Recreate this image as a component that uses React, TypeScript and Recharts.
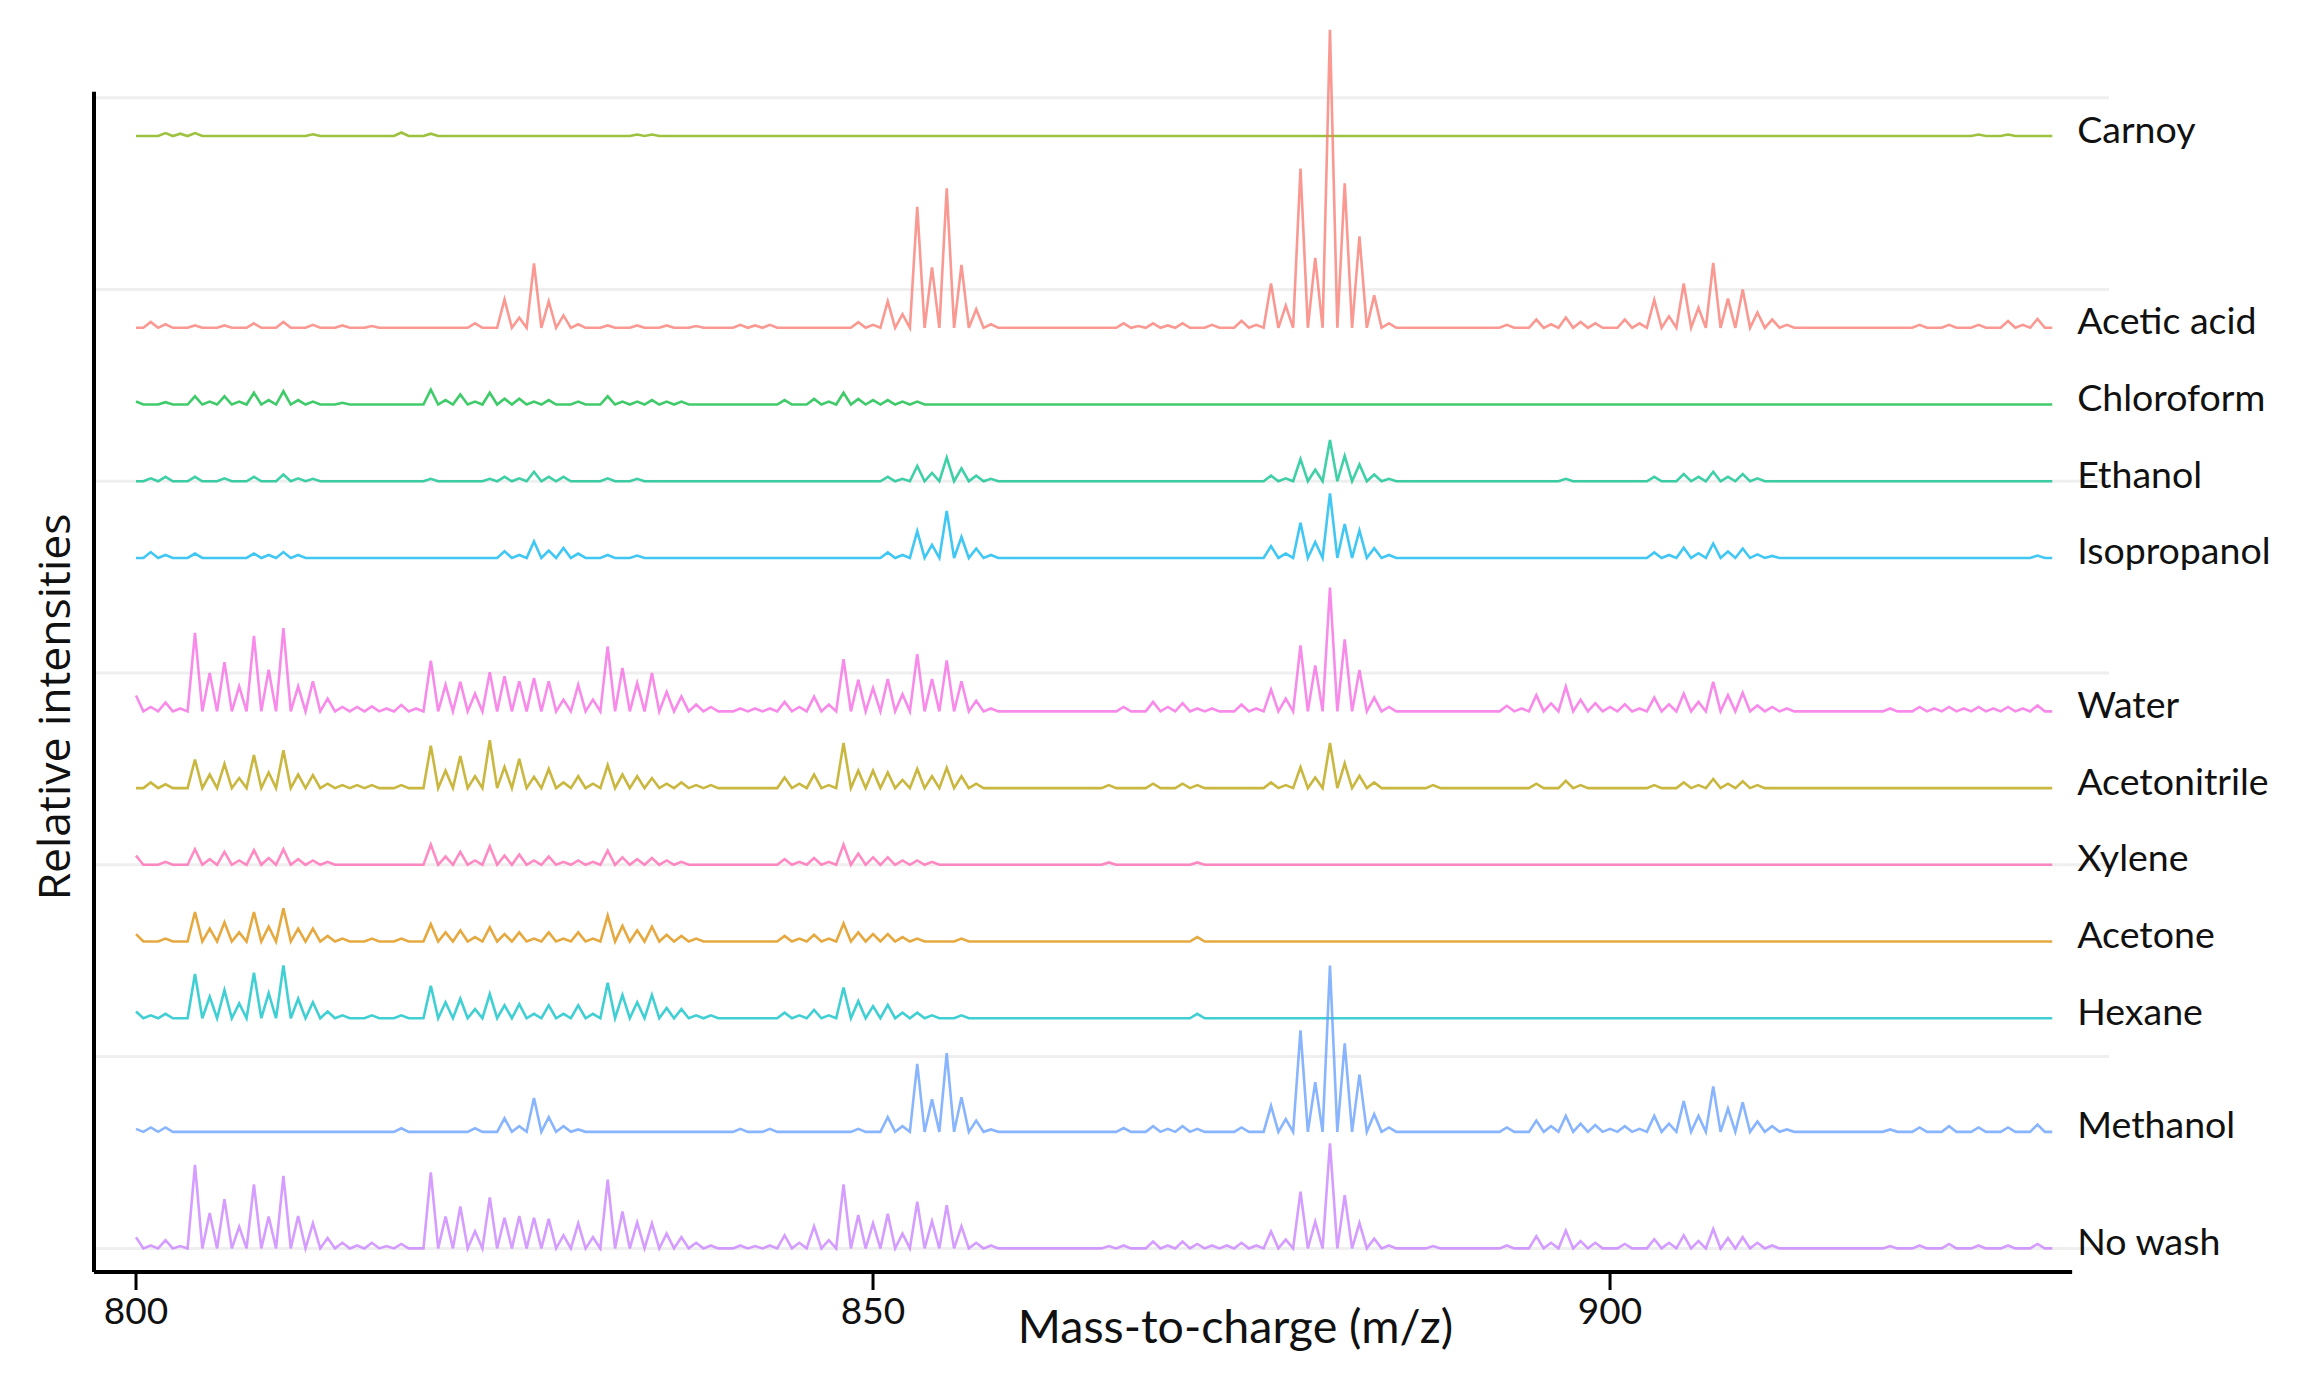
import { Label, LabelList, Line, LineChart, ReferenceLine, XAxis, YAxis } from "recharts";

// samples, top to bottom as stacked in the figure
const SERIES_NAMES = [
  "Carnoy",
  "Acetic acid",
  "Chloroform",
  "Ethanol",
  "Isopropanol",
  "Water",
  "Acetonitrile",
  "Xylene",
  "Acetone",
  "Hexane",
  "Methanol",
  "No wash",
];

// ggplot hue palette, alphabetical assignment
const SERIES_COLORS = [
  "#7CAE00",
  "#F8766D",
  "#00BA38",
  "#00C08B",
  "#00B4F0",
  "#F564E3",
  "#B79F00",
  "#FF64B0",
  "#DE8C00",
  "#00BFC4",
  "#619CFF",
  "#C77CFF",
];

// vertical offset of each stacked spectrum (relative intensity units)
const BASELINES = [385, 320, 294, 268, 242, 190, 164, 138, 112, 86, 47.5, 8];
const GRID_LEVELS = [8, 73, 138, 203, 268, 333, 398];
const X_TICKS = [800, 850, 900];
const MZ_FROM = 800;
const MZ_TO = 930;
const MZ_STEP = 0.5;

// [m/z, peak height]
const carnoyPeaks: [number, number][] = [
  [802, 1], [803, 0.8], [804, 1], [812, 0.6], [818, 1.2], [820, 0.8], [834, 0.5], [835, 0.5], [925, 0.5], [927, 0.5],
];

const aceticPeaks: [number, number][] = [
  [801, 2], [802, 1.2], [804, 0.8], [806, 0.8], [808, 1.5], [810, 2], [812, 1], [814, 0.8], [816, 0.6],
  [823, 1.5], [825, 9.6], [826, 3.4], [827, 21.8], [828, 9], [829, 4.2], [830, 1.2], [832, 0.8], [834, 0.8],
  [836, 0.8], [838, 0.6], [841, 1], [842, 0.8], [843, 1], [849, 1.9], [850, 1], [851, 9], [852, 4.6],
  [853, 41], [854, 20.5], [855, 47.3], [856, 21.3], [857, 6.3], [858, 1.2], [867, 1.5], [868, 0.6],
  [869, 1.5], [870, 0.8], [871, 1.5], [873, 1], [875, 2.4], [876, 1], [877, 15], [878, 7.5], [879, 54],
  [880, 23.7], [881, 101], [882, 49], [883, 31], [884, 11], [885, 1.5], [893, 1], [895, 2.8], [896, 1.2],
  [897, 3.5], [898, 2], [899, 1.5], [901, 2.8], [902, 1.5], [903, 9.5], [904, 3.9], [905, 15], [906, 6.8],
  [907, 22], [908, 9.9], [909, 13], [910, 5.2], [911, 2.8], [912, 1], [921, 1], [923, 1], [925, 1],
  [927, 2.3], [928, 1], [929, 3],
];

const chloroformPeaks: [number, number][] = [
  [800, 1], [802, 0.8], [804, 2.8], [805, 1], [806, 2.8], [807, 1], [808, 4], [809, 1.5], [810, 4.5],
  [811, 1.5], [812, 1], [814, 0.6], [820, 5], [821, 1.5], [822, 3.4], [823, 1], [824, 4], [825, 2],
  [826, 2], [827, 1], [828, 1.5], [830, 1], [832, 2.8], [833, 1], [834, 1], [835, 1.5], [836, 1], [837, 1],
  [844, 1.5], [846, 1.9], [847, 1], [848, 4], [849, 1.9], [850, 1.5], [851, 1.5], [852, 1], [853, 1],
];

const ethanolPeaks: [number, number][] = [
  [801, 1], [802, 1.5], [804, 1.5], [806, 1], [808, 1.5], [810, 2.3], [811, 1], [812, 0.8], [820, 0.8],
  [824, 0.8], [825, 1.5], [826, 1], [827, 3.2], [828, 1.5], [829, 1.5], [832, 1], [834, 0.8], [851, 1.5],
  [852, 0.8], [853, 5.2], [854, 2.8], [855, 8], [856, 4.4], [857, 1.9], [858, 0.8], [877, 1.9], [878, 1],
  [879, 7.5], [880, 3.9], [881, 14], [882, 8.6], [883, 5.7], [884, 2.3], [885, 0.8], [897, 0.8], [903, 1.5],
  [905, 2.4], [906, 1.5], [907, 3.2], [908, 1.5], [909, 2.4], [910, 1],
];

const isopropanolPeaks: [number, number][] = [
  [801, 2], [802, 1], [804, 1.5], [808, 1.5], [809, 1], [810, 2], [811, 1], [825, 2.3], [826, 1],
  [827, 5.6], [828, 2.5], [829, 3.4], [830, 1.5], [832, 1], [834, 0.8], [851, 1.9], [852, 1], [853, 9.1],
  [854, 4.4], [855, 15.9], [856, 7.1], [857, 3.2], [858, 1], [877, 4], [878, 1.5], [879, 11.9], [880, 5.4],
  [881, 21.9], [882, 11.5], [883, 9.3], [884, 3.3], [885, 1], [903, 1.9], [904, 1], [905, 3.5], [906, 1.6],
  [907, 4.9], [908, 2.2], [909, 3.2], [910, 1.2], [911, 0.7], [929, 0.8],
];

const waterPeaks: [number, number][] = [
  [800, 5.4], [801, 1.5], [802, 3], [803, 1], [804, 26.6], [805, 13], [806, 16.7], [807, 8.5], [808, 25.6],
  [809, 14.1], [810, 28.2], [811, 8.5], [812, 10.2], [813, 4.3], [814, 1.5], [815, 1.5], [816, 1.7],
  [817, 1], [818, 2.2], [819, 1], [820, 17.2], [821, 9], [822, 10], [823, 6], [824, 13.3], [825, 11.9],
  [826, 10.2], [827, 11.3], [828, 10.2], [829, 4], [830, 9], [831, 4], [832, 22], [833, 14.7], [834, 9.6],
  [835, 13], [836, 6.6], [837, 5.1], [838, 2.3], [839, 1.5], [841, 1], [842, 1], [843, 1], [844, 3.2],
  [845, 1.5], [846, 5], [847, 2.3], [848, 17.7], [849, 10.7], [850, 7.9], [851, 11], [852, 5.8],
  [853, 19.4], [854, 11], [855, 17.3], [856, 10.2], [857, 3.6], [858, 1], [867, 1.5], [869, 3.2],
  [870, 1.5], [871, 2.8], [872, 1], [873, 1], [875, 2.3], [876, 1], [877, 7.4], [878, 4.3], [879, 22.4],
  [880, 15.6], [881, 42], [882, 24.4], [883, 14], [884, 4.7], [885, 1.5], [893, 1.9], [894, 1], [895, 5.5],
  [896, 2.7], [897, 8.4], [898, 4], [899, 2.8], [900, 1.5], [901, 2.4], [902, 1], [903, 4.7], [904, 2.4],
  [905, 6], [906, 3.2], [907, 10], [908, 5.5], [909, 6.3], [910, 2], [911, 1.5], [912, 1], [919, 1],
  [921, 1.5], [922, 1], [923, 1.5], [924, 1], [925, 1.5], [926, 1], [927, 1.5], [928, 1], [929, 2],
];

const acetonitrilePeaks: [number, number][] = [
  [801, 1.9], [802, 1.3], [804, 9.7], [805, 4.6], [806, 8.2], [807, 3.4], [808, 11.2], [809, 5.3],
  [810, 12.8], [811, 4.6], [812, 4.4], [813, 1.5], [814, 1], [815, 1], [816, 1], [818, 1], [820, 14.4],
  [821, 5.9], [822, 10.9], [823, 4], [824, 16.2], [825, 7.2], [826, 9.9], [827, 3.8], [828, 6.5],
  [829, 1.9], [830, 4], [831, 1.5], [832, 7.8], [833, 4.6], [834, 4], [835, 3.4], [836, 1.5], [837, 1.9],
  [838, 1], [839, 1], [844, 3.6], [845, 1.5], [846, 4.6], [847, 1], [848, 15.3], [849, 5.9], [850, 5.9],
  [851, 5.3], [852, 2.8], [853, 6.5], [854, 4], [855, 6.9], [856, 4], [857, 1.5], [866, 1], [869, 1.5],
  [871, 1.5], [872, 1], [877, 1.9], [878, 1], [879, 7.1], [880, 3.6], [881, 15.3], [882, 8.4], [883, 4.2],
  [884, 1.9], [888, 1], [895, 1.5], [897, 2.5], [898, 1], [903, 1], [905, 1.9], [906, 1], [907, 3.1],
  [908, 1.5], [909, 2.3], [910, 1],
];

const xylenePeaks: [number, number][] = [
  [800, 3.1], [802, 1], [804, 5.3], [805, 1.9], [806, 4.4], [807, 1.5], [808, 5], [809, 2.3], [810, 5.3],
  [811, 1.9], [812, 1.5], [813, 1], [820, 6.9], [821, 2.8], [822, 4.4], [823, 1.5], [824, 6.3], [825, 3.1],
  [826, 3.5], [827, 1.5], [828, 2.8], [829, 1], [830, 1.5], [831, 1], [832, 4.8], [833, 2.5], [834, 1.9],
  [835, 2.3], [836, 1.5], [837, 1], [844, 1.9], [845, 1], [846, 2.3], [847, 1], [848, 6.9], [849, 3.8],
  [850, 2.5], [851, 2.5], [852, 1.5], [853, 1.5], [854, 1], [866, 0.8], [872, 0.8],
];

const acetonePeaks: [number, number][] = [
  [800, 2.5], [802, 1], [804, 10], [805, 4.4], [806, 6.5], [807, 3.1], [808, 10], [809, 5], [810, 11.3],
  [811, 4.4], [812, 4.4], [813, 1.9], [814, 1], [816, 1], [818, 1], [820, 5.9], [821, 3.1], [822, 3.8],
  [823, 1.5], [824, 4.8], [825, 2.5], [826, 3.1], [827, 1], [828, 3.1], [829, 1], [830, 3.1], [831, 1],
  [832, 8.8], [833, 5.3], [834, 3.8], [835, 5], [836, 2.3], [837, 1.9], [838, 1], [844, 1.9], [845, 1],
  [846, 2.3], [847, 1], [848, 6.1], [849, 3.1], [850, 2.5], [851, 2.5], [852, 1.5], [853, 1], [856, 1],
  [872, 1.5],
];

const hexanePeaks: [number, number][] = [
  [800, 2.3], [801, 1], [802, 1.5], [804, 15], [805, 7.3], [806, 9.5], [807, 5], [808, 15.4], [809, 8.5],
  [810, 17.9], [811, 6.6], [812, 5.4], [813, 2.3], [814, 1], [816, 1], [818, 1], [820, 11], [821, 5.4],
  [822, 6.6], [823, 3.1], [824, 8.2], [825, 4.4], [826, 4.8], [827, 1.5], [828, 4.4], [829, 1.5],
  [830, 4.4], [831, 1.5], [832, 12], [833, 7.9], [834, 5.4], [835, 7.9], [836, 3.5], [837, 3.1], [838, 1],
  [839, 1], [844, 1.9], [845, 1], [846, 2.8], [847, 1], [848, 10.4], [849, 5.8], [850, 4.1], [851, 4.5],
  [852, 1.9], [853, 1.9], [854, 1], [856, 1], [872, 1.5],
];

const methanolPeaks: [number, number][] = [
  [800, 1], [801, 1.5], [802, 1.5], [818, 1.2], [823, 1.2], [825, 4.6], [826, 1.9], [827, 11.5], [828, 5],
  [829, 1.9], [830, 0.8], [841, 1], [843, 1], [849, 1], [851, 5], [852, 1.9], [853, 23], [854, 11],
  [855, 26.7], [856, 11.7], [857, 3.8], [858, 0.8], [867, 1.3], [869, 1.9], [870, 1], [871, 1.9], [872, 1],
  [875, 1.5], [877, 8.8], [878, 4.3], [879, 34.4], [880, 16.8], [881, 56.4], [882, 30], [883, 19.4],
  [884, 6], [885, 1.5], [893, 1.5], [895, 3.8], [896, 1.9], [897, 5.4], [898, 2.8], [899, 2.3], [900, 1],
  [901, 1.9], [902, 1], [903, 5.4], [904, 2.8], [905, 10.4], [906, 5.4], [907, 15.4], [908, 7.9], [909, 10],
  [910, 3.5], [911, 1.9], [912, 0.8], [919, 0.8], [921, 1.5], [923, 1.9], [925, 1.5], [927, 1.5], [929, 2.5],
];

const noWashPeaks: [number, number][] = [
  [800, 3.8], [801, 1], [802, 2.8], [803, 0.8], [804, 28.3], [805, 12], [806, 16.7], [807, 7.3], [808, 21.7],
  [809, 10.8], [810, 24.6], [811, 11], [812, 8.5], [813, 3.5], [814, 1.9], [815, 1], [816, 1.9], [817, 0.8],
  [818, 1.5], [820, 25.8], [821, 10.8], [822, 14.2], [823, 5.8], [824, 17.3], [825, 10.4], [826, 11],
  [827, 10.4], [828, 10], [829, 4.4], [830, 8.5], [831, 3.8], [832, 23.3], [833, 12.5], [834, 8.8],
  [835, 8.5], [836, 5], [837, 3.8], [838, 1.9], [839, 1], [841, 1], [842, 0.8], [843, 1], [844, 4.4],
  [845, 1.9], [846, 7.5], [847, 2.8], [848, 21.7], [849, 11.3], [850, 8.5], [851, 11.7], [852, 5],
  [853, 15.8], [854, 9.2], [855, 14.6], [856, 7.5], [857, 1.9], [858, 1], [866, 0.8], [867, 1], [869, 2.3],
  [870, 1], [871, 2.3], [872, 1.5], [873, 1], [874, 1], [875, 1.9], [876, 1], [877, 5.7], [878, 3],
  [879, 19.2], [880, 9.1], [881, 35.6], [882, 18], [883, 8.6], [884, 3.3], [885, 1], [888, 0.8], [893, 1],
  [895, 4.1], [896, 1.9], [897, 6], [898, 2.5], [899, 1.9], [901, 1.5], [903, 3.1], [904, 1.9], [905, 4.4],
  [906, 2.5], [907, 6.6], [908, 3.5], [909, 3.8], [910, 1.9], [911, 1], [919, 0.8], [921, 1], [923, 1.5],
  [925, 1], [927, 1], [929, 1.5],
];

const PEAKS = [
  carnoyPeaks,
  aceticPeaks,
  chloroformPeaks,
  ethanolPeaks,
  isopropanolPeaks,
  waterPeaks,
  acetonitrilePeaks,
  xylenePeaks,
  acetonePeaks,
  hexanePeaks,
  methanolPeaks,
  noWashPeaks,
];

const W = 2300;
const H = 1373;
const FONT = "Lato, 'Open Sans', sans-serif";

// one row per half m/z step; a spectrum sits on its baseline where no peak was read
const lookups = PEAKS.map((list) => new Map(list.map(([mz, h]) => [mz, h])));
const rows: Record<string, number>[] = [];
const stepCount = Math.round((MZ_TO - MZ_FROM) / MZ_STEP);
for (let i = 0; i <= stepCount; i++) {
  const mz = MZ_FROM + i * MZ_STEP;
  const row: Record<string, number> = { mz };
  lookups.forEach((lookup, s) => {
    row[`s${s}`] = BASELINES[s] + (lookup.get(mz) ?? 0);
  });
  rows.push(row);
}
const lastIndex = rows.length - 1;

function seriesLabel(name: string) {
  return (props: any) => {
    if (props.index !== lastIndex) return null;
    const x = Number(props.x ?? props.viewBox?.x);
    const y = Number(props.y ?? props.viewBox?.y);
    return (
      <text
        x={x + 25}
        y={y - 8}
        dominantBaseline="central"
        fill="#111"
        fontSize={37.5}
        fontFamily={FONT}
      >
        {name}
      </text>
    );
  };
}

export default function App() {
  return (
    <div style={{ width: W, height: H, background: "#fff" }}>
      <style>{`body{margin:0;}`}</style>
      <LineChart width={W} height={H} data={rows} margin={{ top: 18, right: 191, bottom: 41, left: 94 }}>
        <XAxis
          dataKey="mz"
          type="number"
          domain={[797.15, 933.85]}
          ticks={X_TICKS}
          interval={0}
          axisLine={false}
          tickLine={{ stroke: "#000", strokeWidth: 3 }}
          tickSize={18}
          tickMargin={8}
          height={60}
          tick={{ fill: "#111", fontSize: 37, fontFamily: FONT }}
        >
          <Label
            content={(props: any) => {
              const vb = props.viewBox ?? {};
              return (
                <text
                  x={vb.x + vb.width / 2 + 134}
                  y={vb.y + 71}
                  textAnchor="middle"
                  fill="#111"
                  fontSize={46.5}
                  fontFamily={FONT}
                >
                  Mass-to-charge (m/z)
                </text>
              );
            }}
          />
          <Label
            content={(props: any) => {
              const vb = props.viewBox ?? {};
              const cx = vb.x - 24;
              const cy = vb.y - 565;
              return (
                <text
                  x={cx}
                  y={cy}
                  transform={`rotate(-90 ${cx} ${cy})`}
                  textAnchor="middle"
                  fill="#111"
                  fontSize={44.5}
                  fontFamily="'Open Sans', 'DejaVu Sans', sans-serif"
                >
                  Relative intensities
                </text>
              );
            }}
          />
        </XAxis>
        <YAxis type="number" domain={[0, 425]} hide />

        {GRID_LEVELS.map((v) => (
          <ReferenceLine key={`g${v}`} y={v} stroke="#efefef" strokeWidth={3} />
        ))}

        {SERIES_NAMES.map((name, s) => (
          <Line
            key={name}
            dataKey={`s${s}`}
            type="linear"
            stroke={SERIES_COLORS[s]}
            strokeOpacity={0.75}
            strokeWidth={2.6}
            dot={false}
            activeDot={false}
            isAnimationActive={false}
          >
            <LabelList dataKey={`s${s}`} content={seriesLabel(name)} />
          </Line>
        ))}

        <ReferenceLine
          segment={[
            { x: 797.15, y: 0 },
            { x: 797.15, y: 400 },
          ]}
          stroke="#000"
          strokeWidth={4}
        />
        <ReferenceLine
          segment={[
            { x: 797.15, y: 0 },
            { x: 931.35, y: 0 },
          ]}
          stroke="#000"
          strokeWidth={4}
        />
      </LineChart>
    </div>
  );
}
